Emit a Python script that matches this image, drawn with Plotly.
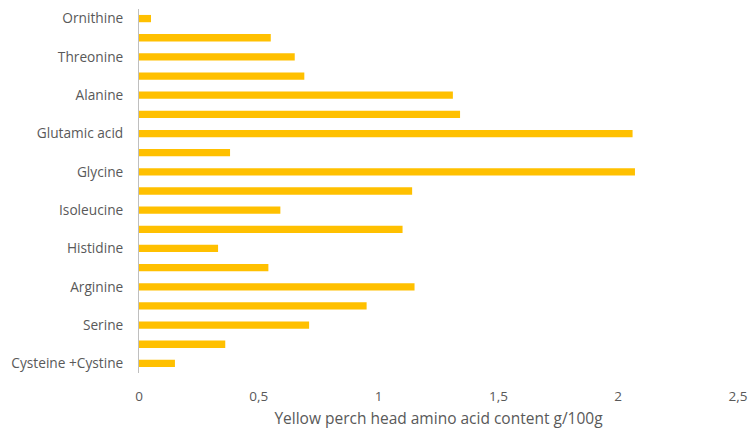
import plotly.graph_objects as go

# categories from bottom to top
categories = [
    "Cysteine +Cystine", "Methionine", "Serine", "Proline", "Arginine",
    "Tyrosine", "Histidine", "Leucine", "Isoleucine", "Lysine", "Glycine",
    "Tryptophan", "Glutamic acid", "Aspartic acid", "Alanine",
    "Phenylalanine", "Threonine", "Valine", "Ornithine",
]
values = [
    0.15, 0.36, 0.71, 0.95, 1.15,
    0.54, 0.33, 1.10, 0.59, 1.14, 2.07,
    0.38, 2.06, 1.34, 1.31,
    0.69, 0.65, 0.55, 0.05,
]
shown_labels = ["Cysteine +Cystine", "Serine", "Arginine", "Histidine", "Isoleucine",
                "Glycine", "Glutamic acid", "Alanine", "Threonine", "Ornithine"]
x_ticks = [0, 0.5, 1, 1.5, 2, 2.5]

fig = go.Figure(go.Bar(
    y=categories, x=values, orientation="h",
    marker=dict(color="#FFC000", line=dict(width=0)),
))

fig.update_layout(
    width=752, height=430,
    margin=dict(l=139, r=14, t=9, b=57),
    paper_bgcolor="white", plot_bgcolor="white",
    separators=",.",
    bargap=0.62,
    showlegend=False,
    font=dict(family="Open Sans", color="#595959", size=13),
)
fig.update_xaxes(
    range=[0, 2.5], tickvals=x_ticks, showgrid=False, zeroline=False,
    showline=False, ticks="outside", ticklen=11, tickcolor="rgba(0,0,0,0)",
    tickfont=dict(size=13.5, color="#595959"), automargin=False,
    title=dict(text="Yellow perch head amino acid content g/100g",
               font=dict(size=15.5, color="#595959"), standoff=8),
)
fig.update_yaxes(
    type="category", categoryorder="array", categoryarray=categories,
    tickvals=shown_labels, showgrid=False, zeroline=False,
    showline=True, linecolor="#BFBFBF", linewidth=1, automargin=False,
    ticks="", ticklabelstandoff=12,
    tickfont=dict(size=13.7, color="#595959"),
)

fig.write_html("out.html")
